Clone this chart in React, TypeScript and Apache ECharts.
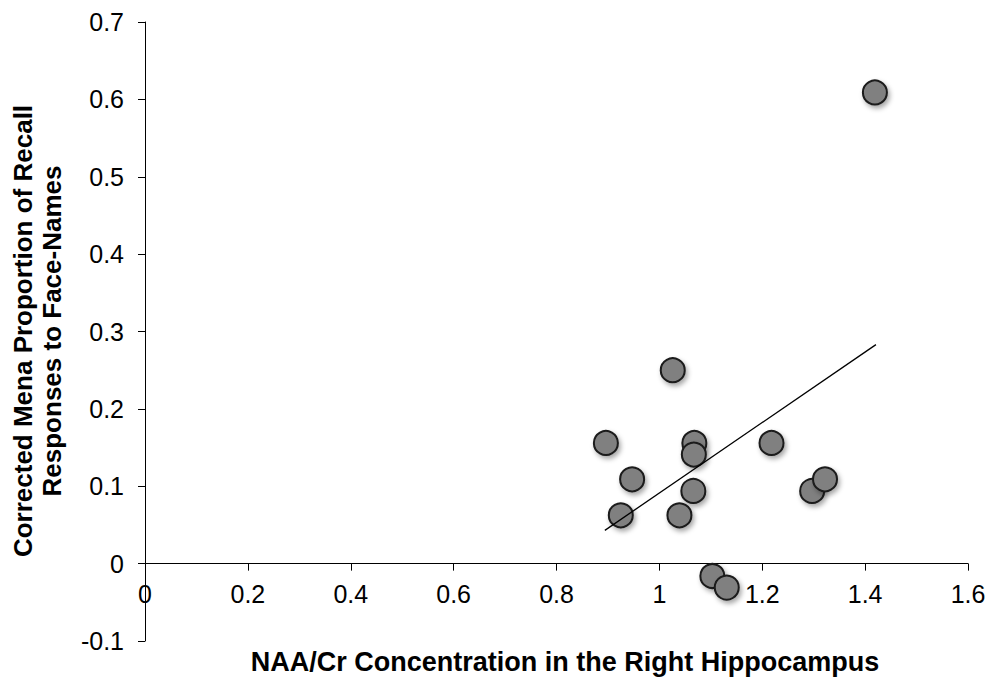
import React, { useEffect, useRef } from "react";
import * as echarts from "echarts";

const naaCr = [1.026, 0.896, 1.068, 1.067, 0.947, 1.066, 0.925, 1.039, 1.218, 1.297, 1.322, 1.103, 1.131, 1.419];
const recall = [0.25, 0.156, 0.156, 0.141, 0.109, 0.094, 0.0625, 0.0625, 0.156, 0.094, 0.109, -0.016, -0.031, 0.609];
const trendX = [0.894, 1.421];
const trendY = [0.043, 0.283];
const xTicks = { min: 0, max: 1.6, interval: 0.2 };
const yTicks = { min: -0.1, max: 0.7, interval: 0.1 };
const xTitle = "NAA/Cr Concentration in the Right Hippocampus";
const yTitle = "Corrected Mena Proportion of Recall\nResponses to Face-Names";

const FONT = "Liberation Sans, Arial, sans-serif";
const GRID_TOP = 22;
const GRID_BOTTOM = 38;
const CHART_H = 679;

export default function App() {
  const ref = useRef<HTMLDivElement>(null);
  useEffect(() => {
    if (!ref.current) return;
    const chart = echarts.init(ref.current, undefined, { renderer: "svg" });
    const fmt = (v: number) => String(Math.round(v * 10) / 10);
    const plotH = CHART_H - GRID_TOP - GRID_BOTTOM;
    // pixel distance from the bottom of the grid up to the y = 0 line
    const zeroOffset = (plotH * (0 - yTicks.min)) / (yTicks.max - yTicks.min);
    chart.setOption({
      animation: false,
      backgroundColor: "#ffffff",
      grid: { left: 145, right: 22, top: GRID_TOP, bottom: GRID_BOTTOM },
      xAxis: {
        type: "value",
        min: xTicks.min,
        max: xTicks.max,
        interval: xTicks.interval,
        offset: -zeroOffset,
        axisLine: { show: true, onZero: false, lineStyle: { color: "#000", width: 1 } },
        axisTick: { show: true, inside: false, length: 7, lineStyle: { color: "#000" } },
        axisLabel: { color: "#000", fontSize: 25, fontFamily: FONT, margin: 18, formatter: fmt },
        splitLine: { show: false },
      },
      yAxis: {
        type: "value",
        min: yTicks.min,
        max: yTicks.max,
        interval: yTicks.interval,
        axisLine: { show: true, onZero: false, lineStyle: { color: "#000", width: 1 } },
        axisTick: { show: true, inside: false, length: 7, lineStyle: { color: "#000" } },
        axisLabel: { color: "#000", fontSize: 25, fontFamily: FONT, margin: 21, formatter: fmt },
        splitLine: { show: false },
      },
      graphic: [
        {
          type: "text",
          x: 565,
          y: 662,
          style: {
            text: xTitle,
            fill: "#000",
            font: `bold 27px ${FONT}`,
            textAlign: "center",
            textVerticalAlign: "middle",
          },
        },
        {
          type: "text",
          x: 37,
          y: 331,
          rotation: Math.PI / 2,
          style: {
            text: yTitle,
            fill: "#000",
            font: `bold 26px ${FONT}`,
            textAlign: "center",
            textVerticalAlign: "middle",
            lineHeight: 29,
          },
        },
      ],
      series: [
        {
          type: "line",
          data: trendX.map((x, i) => [x, trendY[i]]),
          showSymbol: false,
          symbol: "none",
          lineStyle: { color: "#000", width: 1.3 },
          z: 3,
        },
        {
          type: "scatter",
          data: naaCr.map((x, i) => [x, recall[i]]),
          symbol: "circle",
          symbolSize: 24,
          itemStyle: {
            color: "#808080",
            borderColor: "#1a1a1a",
            borderWidth: 2,
            shadowBlur: 5,
            shadowOffsetX: 2,
            shadowOffsetY: 3,
            shadowColor: "rgba(0,0,0,0.35)",
            opacity: 1,
          },
          z: 2,
        },
      ],
    });
    return () => chart.dispose();
  }, []);
  return <div ref={ref} style={{ width: 990, height: 679, position: "absolute", left: 0, top: 0 }} />;
}
